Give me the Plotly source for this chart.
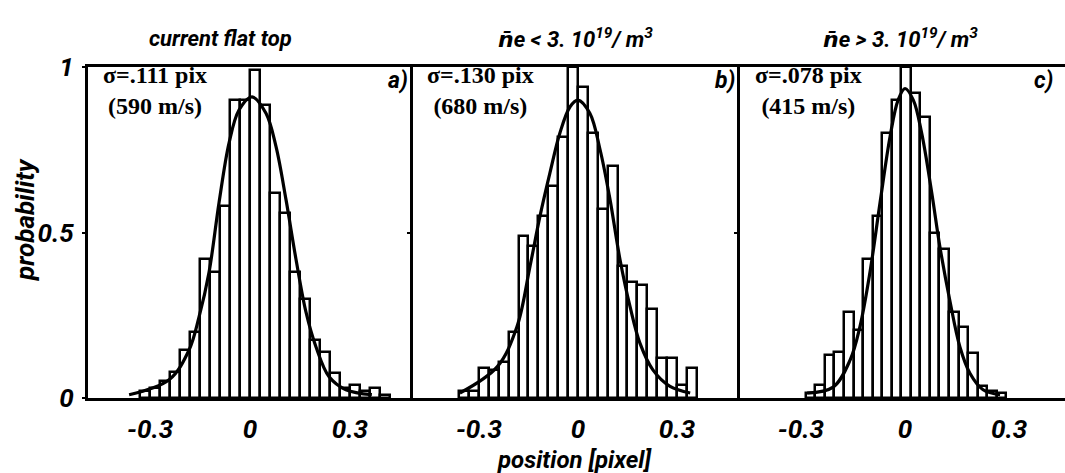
import plotly.graph_objects as go

# ---------------- data ----------------
# panel a: current flat top
a_centers = [-0.315, -0.285, -0.255, -0.225, -0.195, -0.165, -0.135, -0.105, -0.075, -0.045,
             -0.015, 0.015, 0.045, 0.075, 0.105, 0.135, 0.165, 0.195, 0.225, 0.255,
             0.285, 0.315, 0.345, 0.375, 0.405]
a_heights = [0.02, 0.03, 0.05, 0.08, 0.145, 0.20, 0.42, 0.38, 0.58, 0.90,
             0.90, 0.99, 0.885, 0.62, 0.56, 0.38, 0.30, 0.175, 0.14, 0.075,
             0.03, 0.04, 0.02, 0.03, 0.01]
a_curve_x = [-0.363, -0.243, -0.183, -0.153, -0.123, -0.093, -0.063, -0.033, 0.006,
             0.048, 0.078, 0.108, 0.138, 0.168, 0.198, 0.237, 0.288, 0.366]
a_curve_y = [0.01, 0.055, 0.145, 0.245, 0.38, 0.59, 0.77, 0.87, 0.91,
             0.86, 0.76, 0.60, 0.42, 0.26, 0.155, 0.065, 0.025, 0.01]

# panel b: ne < 3.10^19 / m^3
b_centers = [-0.345, -0.315, -0.285, -0.255, -0.225, -0.195, -0.165, -0.135, -0.105, -0.075,
             -0.045, -0.015, 0.015, 0.045, 0.075, 0.105, 0.135, 0.165, 0.195, 0.225,
             0.255, 0.285, 0.315, 0.345]
b_heights = [0.02, 0.02, 0.09, 0.085, 0.11, 0.20, 0.49, 0.46, 0.55, 0.64,
             0.79, 1.0, 0.94, 0.80, 0.57, 0.70, 0.40, 0.35, 0.34, 0.27,
             0.12, 0.12, 0.04, 0.09]
b_curve_x = [-0.358, -0.245, -0.185, -0.145, -0.115, -0.085, -0.055, -0.024, 0.0,
             0.036, 0.067, 0.097, 0.127, 0.158, 0.188, 0.227, 0.279, 0.34]
b_curve_y = [0.015, 0.094, 0.215, 0.40, 0.55, 0.68, 0.80, 0.88, 0.90,
             0.86, 0.75, 0.60, 0.42, 0.275, 0.165, 0.085, 0.035, 0.015]

# panel c: ne > 3.10^19 / m^3
c_centers = [-0.272, -0.2445, -0.217, -0.1895, -0.162, -0.1345, -0.107, -0.0795, -0.052, -0.0245,
             0.003, 0.0305, 0.058, 0.0855, 0.113, 0.1405, 0.168, 0.1955, 0.223, 0.2505, 0.278]
c_heights = [0.015, 0.04, 0.13, 0.14, 0.26, 0.205, 0.42, 0.55, 0.80, 0.90,
             1.0, 0.92, 0.85, 0.50, 0.45, 0.26, 0.215, 0.136, 0.035, 0.02, 0.015]
c_curve_x = [-0.282, -0.207, -0.158, -0.130, -0.101, -0.072, -0.043, -0.020, 0.0,
             0.024, 0.048, 0.077, 0.100, 0.130, 0.158, 0.187, 0.225, 0.274]
c_curve_y = [0.015, 0.033, 0.115, 0.215, 0.38, 0.59, 0.79, 0.90, 0.935,
             0.90, 0.80, 0.62, 0.46, 0.29, 0.155, 0.075, 0.025, 0.01]

NBAR = '<span style="font-family:DejaVu Sans">n\u0304</span>'
panel_titles = ["current flat top",
                NBAR + "e < 3. 10<sup>19</sup>/ m<sup>3</sup>",
                NBAR + "e > 3. 10<sup>19</sup>/ m<sup>3</sup>"]
sigma_text = ["\u03c3=.111 pix", "\u03c3=.130 pix", "\u03c3=.078 pix"]
speed_text = ["(590 m/s)", "(680 m/s)", "(415 m/s)"]
panel_letters = ["a)", "b)", "c)"]
x_tickvals = [-0.3, 0, 0.3]
x_ticktext = ["-0.3", "0", "0.3"]
y_tickvals = [0, 0.5, 1]
y_ticktext = ["0", "0.5", "1"]
bin_widths = [0.03, 0.03, 0.0275]

# ---------------- layout geometry ----------------
W, H = 1065, 473
SANS = "Roboto, Liberation Sans, sans-serif"
SERIF = "Liberation Serif, Times New Roman, serif"

panel_px = [(88, 413), (413, 740), (740, 1065)]
x_ranges = [[-0.4865, 0.4895], [-0.5, 0.491], [-0.4755, 0.461]]
y_dom = [1 - 398 / H, 1 - 67 / H]

fig = go.Figure()

data = [(a_centers, a_heights, a_curve_x, a_curve_y),
        (b_centers, b_heights, b_curve_x, b_curve_y),
        (c_centers, c_heights, c_curve_x, c_curve_y)]

for i, (cx, hy, lx, ly) in enumerate(data):
    xa = "x" if i == 0 else f"x{i+1}"
    ya = "y" if i == 0 else f"y{i+1}"
    fig.add_trace(go.Bar(x=cx, y=hy, width=bin_widths[i], xaxis=xa, yaxis=ya,
                         marker=dict(color="white", line=dict(color="black", width=2.5)),
                         showlegend=False))
    fig.add_trace(go.Scatter(x=lx, y=ly, mode="lines", xaxis=xa, yaxis=ya,
                             line=dict(color="black", width=3.2, shape="spline", smoothing=1.0),
                             showlegend=False))

tickfont = dict(family=SANS, size=26, color="black", weight="bold", style="italic")
layout = dict(width=W, height=H, margin=dict(l=0, r=0, t=0, b=0, pad=0, autoexpand=False),
              paper_bgcolor="white", plot_bgcolor="white", bargap=0, template="none")

for i in range(3):
    x0, x1 = panel_px[i]
    xk = "xaxis" if i == 0 else f"xaxis{i+1}"
    yk = "yaxis" if i == 0 else f"yaxis{i+1}"
    layout[xk] = dict(domain=[x0 / W, min(x1 / W, 1.0)], range=x_ranges[i],
                      anchor="y" if i == 0 else f"y{i+1}", automargin=False,
                      showgrid=False, zeroline=False, showline=True, mirror=True,
                      linecolor="black", linewidth=3,
                      tickvals=x_tickvals, ticktext=x_ticktext, ticks="",
                      tickfont=tickfont, ticklabelstandoff=6, fixedrange=True)
    ydict = dict(domain=y_dom, range=[0, 1],
                 anchor="x" if i == 0 else f"x{i+1}", automargin=False,
                 showgrid=False, zeroline=False, showline=True, mirror=False,
                 linecolor="black", linewidth=3,
                 ticks="outside", ticklen=3, tickwidth=2, tickcolor="black",
                 fixedrange=True)
    if i == 0:
        ydict.update(tickvals=y_tickvals, ticktext=y_ticktext, showticklabels=True,
                     tickfont=tickfont, ticklabelstandoff=3)
    else:
        ydict.update(tickvals=[0.5], showticklabels=False)
    layout[yk] = ydict

fig.update_layout(**layout)

ann = []
title_cx = [220, 575, 900]
info_cx = [155, 480, 808]
for i in range(3):
    x0, x1 = panel_px[i]
    ann.append(dict(text=panel_titles[i], x=title_cx[i] / W, y=1 - 38 / H, xref="paper", yref="paper",
                    xanchor="center", yanchor="middle", showarrow=False,
                    font=dict(family=SANS, size=22, color="black", weight="bold", style="italic")))
    ann.append(dict(text=sigma_text[i] + "<br>" + speed_text[i], x=info_cx[i] / W, y=1 - 91 / H,
                    xref="paper", yref="paper", align="center",
                    xanchor="center", yanchor="middle", showarrow=False,
                    font=dict(family=SERIF, size=24, color="black", weight="bold")))
    ann.append(dict(text=panel_letters[i], x=(min(x1, 1058) - 3) / W, y=1 - 80 / H, xref="paper", yref="paper",
                    xanchor="right", yanchor="middle", showarrow=False,
                    font=dict(family=SANS, size=23, color="black", weight="bold", style="italic")))

ann.append(dict(text="position [pixel]", x=575 / W, y=1 - 460 / H, xref="paper", yref="paper",
                xanchor="center", yanchor="middle", showarrow=False,
                font=dict(family=SANS, size=24, color="black", weight="bold", style="italic")))
ann.append(dict(text="probability", x=25 / W, y=1 - 220 / H, xref="paper", yref="paper",
                xanchor="center", yanchor="middle", showarrow=False, textangle=-90,
                font=dict(family=SANS, size=26, color="black", weight="bold", style="italic")))

fig.update_layout(annotations=ann)
fig.write_html("out.html")
